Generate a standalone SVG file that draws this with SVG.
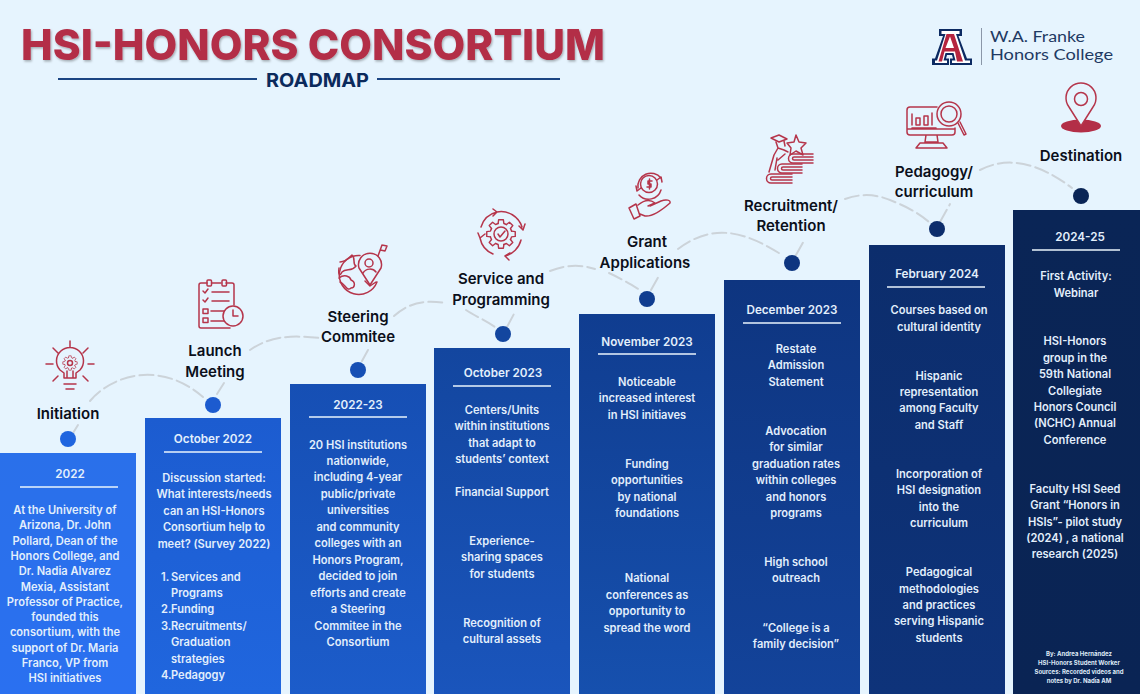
<svg xmlns="http://www.w3.org/2000/svg" width="1140" height="694" viewBox="0 0 1140 694">
<style>
text{font-family:Inter,"Liberation Sans",sans-serif}
.b{font-size:11.100px;font-weight:600;fill:#e3effc;text-anchor:middle}
.d{font-size:11.700px;font-weight:600;fill:#e3effc;text-anchor:middle}
.l{font-size:15px;font-weight:600;fill:#0b0f1a;text-anchor:middle}
.u{stroke:#eaf4fd;stroke-width:1.600;fill:none}
.i{fill:none;stroke:#b5354b;stroke-width:1.500;stroke-linecap:round;stroke-linejoin:round}
.c{fill:none;stroke:#ccd3d9;stroke-width:2;stroke-dasharray:14 5;stroke-linecap:round}
</style>
<defs>
<linearGradient id="g1" x1="0" y1="0" x2="0" y2="1"><stop offset="0" stop-color="#2a70ea"/><stop offset="1" stop-color="#2a70f0"/></linearGradient>
<linearGradient id="g2" x1="0" y1="0" x2="0" y2="1"><stop offset="0" stop-color="#1c5cd0"/><stop offset="1" stop-color="#2066de"/></linearGradient>
<linearGradient id="g3" x1="0" y1="0" x2="0" y2="1"><stop offset="0" stop-color="#164fb4"/><stop offset="1" stop-color="#1c5cca"/></linearGradient>
<linearGradient id="g4" x1="0" y1="0" x2="0" y2="1"><stop offset="0" stop-color="#13469f"/><stop offset="1" stop-color="#1a55bc"/></linearGradient>
<linearGradient id="g5" x1="0" y1="0" x2="0" y2="1"><stop offset="0" stop-color="#103d90"/><stop offset="1" stop-color="#1650ae"/></linearGradient>
<linearGradient id="g6" x1="0" y1="0" x2="0" y2="1"><stop offset="0" stop-color="#0e3580"/><stop offset="1" stop-color="#13439a"/></linearGradient>
<linearGradient id="g7" x1="0" y1="0" x2="0" y2="1"><stop offset="0" stop-color="#0c2d6c"/><stop offset="1" stop-color="#0e337a"/></linearGradient>
<linearGradient id="g8" x1="0" y1="0" x2="0" y2="1"><stop offset="0" stop-color="#0a2556"/><stop offset="1" stop-color="#0a2454"/></linearGradient>
<filter id="sh" x="-5%" y="-20%" width="110%" height="140%"><feDropShadow dx="1" dy="1.500" stdDeviation="1" flood-color="#000" flood-opacity=".3"/></filter>
<path id="t" d="M-3 -11.100L-2.500 -15H2.500L3 -11.100A11.500 11.500 0 0 1 5.750 -9.960"/>
<g id="gear">
<use href="#t"/><use href="#t" transform="rotate(45)"/><use href="#t" transform="rotate(90)"/><use href="#t" transform="rotate(135)"/><use href="#t" transform="rotate(180)"/><use href="#t" transform="rotate(225)"/><use href="#t" transform="rotate(270)"/><use href="#t" transform="rotate(315)"/>
</g>
</defs>
<rect width="1140" height="694" fill="#e6f4fe"/>

<g id="title">
<text x="313" y="60" text-anchor="middle" font-size="43" font-weight="800" fill="#b32e47" filter="url(#sh)" textLength="584" lengthAdjust="spacingAndGlyphs">HSI-HONORS CONSORTIUM</text>
<text x="317.500" y="87" text-anchor="middle" font-size="19" font-weight="700" fill="#0b2a5c" textLength="103" lengthAdjust="spacingAndGlyphs">ROADMAP</text>
<path d="M58 79H257M377 79H560" stroke="#1b4583" stroke-width="2" fill="none"/>
</g>

<g id="logo">
<path d="M932 65V58.500H935L943 36H939V29H962V36H958.500L967 58.500H972V65H950V58.500H953L952 55H947L946 58.500H949V65Z" fill="#0c2a62"/>
<path d="M935 63V60.500H937L945.500 34H941.500V31H959.500V34H956L965 60.500H970V63H952V60.500H955.500L953.500 53H945.500L943.500 60.500H947V63Z" fill="#fff"/>
<path d="M938.500 61.500L946.500 34H954L963 61.500H957L955 51.500H944.500L942 61.500ZM945.500 48H954L950 36.500Z" fill="#b5253f"/>
<path d="M981.500 28V65" stroke="#8b97a8" stroke-width="1"/>
<text x="990" y="41.500" style='font-family:Lato,sans-serif' font-size="14.800" fill="#1f3a63" textLength="95" lengthAdjust="spacingAndGlyphs">W.A. Franke</text>
<text x="990" y="60" style='font-family:Lato,sans-serif' font-size="14.800" fill="#1f3a63" textLength="123" lengthAdjust="spacingAndGlyphs">Honors College</text>
</g>

<g id="connectors">
<path class="c" d="M73 433L78 425"/>
<path class="c" d="M90 401C112 375 160 360 203 397"/>
<path class="c" d="M217 394L224 383"/>
<path class="c" d="M250 350C270 336 290 335 320 338"/>
<path class="c" d="M362 361L368 350"/>
<path class="c" d="M394 316C410 302 425 300 446 303"/>
<path class="c" d="M466 310C475 316 485 320 495 327"/>
<path class="c" d="M507 327L515 312"/>
<path class="c" d="M550 271C565 265 580 264 595 269"/>
<path class="c" d="M609 273C620 278 630 284 640 290"/>
<path class="c" d="M651 290L660 274"/>
<path class="c" d="M678 249C710 225 740 228 782 255"/>
<path class="c" d="M796 255L805 239"/>
<path class="c" d="M845 199C865 192 880 195 897 203C910 208 922 216 929 222"/>
<path class="c" d="M940 222L950 204"/>
<path class="c" d="M980 170C1005 157 1035 160 1072 188"/>
</g>

<g id="n1">
<rect x="-1" y="453" width="137" height="241" fill="url(#g1)"/>
<circle cx="68" cy="439" r="8" fill="#1f65df"/>
<text class="l" x="68" y="419">Initiation</text>
<g class="i"><path d="M64 378V373L60 370A13.500 13.500 0 1 1 80 370L76 373V378ZM64 384H76M66 389H74M70 341V347M53 348L58 353M88 348L83 353M46 364H53M88 364H94M53 381L58 376M88 381L83 376M67 371V378M73 371V378"/><use href="#gear" transform="translate(70,363) scale(.48)"/><circle cx="70" cy="363" r="2.500"/></g>
<text class="d" x="70" y="478">2022</text><path class="u" d="M20 487H118"/>
<text class="b"><tspan x="65" y="514">At the University of</tspan><tspan x="65" y="529">Arizona, Dr. John</tspan><tspan x="65" y="545">Pollard, Dean of the</tspan><tspan x="65" y="560">Honors College, and</tspan><tspan x="65" y="575">Dr. Nadia Alvarez</tspan><tspan x="65" y="591">Mexia, Assistant</tspan><tspan x="65" y="606">Professor of Practice,</tspan><tspan x="65" y="621">founded this</tspan><tspan x="65" y="636">consortium, with the</tspan><tspan x="65" y="652">support of Dr. Maria</tspan><tspan x="65" y="667">Franco, VP from</tspan><tspan x="65" y="682">HSI initiatives</tspan></text>
</g>

<g id="n2">
<rect x="145" y="418" width="136" height="276" fill="url(#g2)"/>
<circle cx="213" cy="405" r="8" fill="#1c5bcf"/>
<text class="l"><tspan x="215" y="356">Launch</tspan><tspan x="215" y="377">Meeting</tspan></text>
<g class="i"><path d="M207 283H201A2 2 0 0 0 199 285V326A2 2 0 0 0 201 328H230M234 305V285A2 2 0 0 0 232 283H226M212 283H221"/><rect x="207" y="280" width="4.500" height="6" rx="1"/><rect x="222" y="280" width="4.500" height="6" rx="1"/><path d="M203 291L205 293L208 289M203 300L205 302L208 298M212 292H229M212 301H229"/><rect x="203" y="309" width="5" height="4.500"/><rect x="203" y="318" width="5" height="4.500"/><path d="M211 311H224M211 321H224"/><circle cx="233" cy="316" r="10"/><path d="M233 310V316H238"/></g>
<text class="d" x="213" y="443">October 2022</text><path class="u" d="M164 452H262"/>
<text class="b"><tspan x="214" y="482">Discussion started:</tspan><tspan x="214" y="498">What interests/needs</tspan><tspan x="214" y="515">can an HSI-Honors</tspan><tspan x="214" y="531">Consortium help to</tspan><tspan x="214" y="548">meet? (Survey 2022)</tspan></text>
<text class="b" style="text-anchor:start"><tspan x="161" y="581">1.</tspan><tspan x="171" y="581">Services and</tspan><tspan x="171" y="597">Programs</tspan><tspan x="161" y="613">2.</tspan><tspan x="171" y="613">Funding</tspan><tspan x="161" y="630">3.</tspan><tspan x="171" y="630">Recruitments/</tspan><tspan x="171" y="646">Graduation</tspan><tspan x="171" y="663">strategies</tspan><tspan x="161" y="679">4.</tspan><tspan x="171" y="679">Pedagogy</tspan></text>
</g>

<g id="n3">
<rect x="290" y="384" width="136" height="310" fill="url(#g3)"/>
<circle cx="358" cy="370" r="8" fill="#164fb4"/>
<text class="l"><tspan x="358" y="322">Steering</tspan><tspan x="358" y="342">Commitee</tspan></text>
<g class="i"><path d="M360 255.500A19.500 19.500 0 1 0 377 282"/><path d="M340 262C345 262 349 258 352 255C356 258 352 264 356 266C352 272 346 268 342 272C340 276 338 276 339 268M339 278C344 274 350 276 351 280C356 282 355 288 351 288C347 292 345 284 340 282M365 281L370 286L376 282"/><path d="M359 268A11.500 11.500 0 1 1 381 268L370 285Z"/><circle cx="369" cy="263" r="4"/><path d="M363 273C366 268 373 268 376 272M378 256L382 245M382 245L387 246L385 251L380.500 250"/></g>
<text class="d" x="358" y="409">2022-23</text><path class="u" d="M309 417H407"/>
<text class="b"><tspan x="358" y="449">20 HSI institutions</tspan><tspan x="358" y="465">nationwide,</tspan><tspan x="358" y="481">including 4-year</tspan><tspan x="358" y="498">public/private</tspan><tspan x="358" y="514">universities</tspan><tspan x="358" y="531">and community</tspan><tspan x="358" y="547">colleges with an</tspan><tspan x="358" y="564">Honors Program,</tspan><tspan x="358" y="580">decided to join</tspan><tspan x="358" y="597">efforts and create</tspan><tspan x="358" y="613">a Steering</tspan><tspan x="358" y="630">Commitee in the</tspan><tspan x="358" y="646">Consortium</tspan></text>
</g>

<g id="n4">
<rect x="434" y="348" width="136" height="346" fill="url(#g4)"/>
<circle cx="503" cy="334" r="8" fill="#13469f"/>
<text class="l"><tspan x="501" y="284">Service and</tspan><tspan x="501" y="305">Programming</tspan></text>
<g class="i"><path d="M497 212A22 22 0 0 1 522 227M523 230L519 226M523 230L525 224M521 240A22 22 0 0 1 505 256M505 256L510 253M505 256L509 260M493 254A22 22 0 0 1 480 238M480 238L478 233M480 238L485 234M481 227A22 22 0 0 1 497 212M497 212L493 209M497 212L493 216"/><use href="#gear" transform="translate(501,234) scale(.95)"/><circle cx="501" cy="234" r="7"/><path d="M498 234L500 237L505 231"/></g>
<text class="d" x="503" y="377">October 2023</text><path class="u" d="M453 386H551"/>
<text class="b"><tspan x="502" y="414">Centers/Units</tspan><tspan x="502" y="430">within institutions</tspan><tspan x="502" y="447">that adapt to</tspan><tspan x="502" y="463">students’ context</tspan><tspan x="502" y="496">Financial Support</tspan><tspan x="502" y="545">Experience-</tspan><tspan x="502" y="561">sharing spaces</tspan><tspan x="502" y="578">for students</tspan><tspan x="502" y="627">Recognition of</tspan><tspan x="502" y="643">cultural assets</tspan></text>
</g>

<g id="n5">
<rect x="579" y="314" width="136" height="380" fill="url(#g5)"/>
<circle cx="647" cy="299" r="8" fill="#103d90"/>
<text class="l"><tspan x="647" y="247">Grant</tspan><tspan x="645" y="268">Applications</tspan></text>
<g class="i"><path d="M638 188A13 13 0 0 1 661 178M661 190A13 13 0 0 1 639 195"/><circle cx="649" cy="184" r="8.500"/><path d="M652 181H648V184H651V187H647M649.500 179V189M636 186L637 191L641 188M662 182L661 177L657 180M636 204L629 208L634 219L640 216L636 204M638 205C644 200 650 199 655 203L648 206M650 206L661 201C666 199 671 200 670 203C662 210 652 217 645 216L640 214"/></g>
<text class="d" x="647" y="346">November 2023</text><path class="u" d="M598 354H696"/>
<text class="b"><tspan x="647" y="386">Noticeable</tspan><tspan x="647" y="402">increased interest</tspan><tspan x="647" y="419">in HSI initiaves</tspan><tspan x="647" y="468">Funding</tspan><tspan x="647" y="484">opportunities</tspan><tspan x="647" y="501">by national</tspan><tspan x="647" y="517">foundations</tspan><tspan x="647" y="582">National</tspan><tspan x="647" y="599">conferences as</tspan><tspan x="647" y="615">opportunity to</tspan><tspan x="647" y="632">spread the word</tspan></text>
</g>

<g id="n6">
<rect x="724" y="280" width="136" height="414" fill="url(#g6)"/>
<circle cx="792" cy="263" r="8" fill="#0e3580"/>
<text class="l"><tspan x="791" y="211">Recruitment/</tspan><tspan x="791" y="231">Retention</tspan></text>
<g class="i"><path d="M792 174H771A4.500 4.500 0 0 0 771 183H792M792 177H772A1.500 1.500 0 0 0 772 180H792"/><path d="M802 164H782A4.500 4.500 0 0 0 782 173H802M802 167H783A1.500 1.500 0 0 0 783 170H802"/><path d="M813 154H793A4.500 4.500 0 0 0 793 163H813M813 157H794A1.500 1.500 0 0 0 794 160H813"/><path d="M769 172L774 155L778 148L784 150L788 152M777 158L775 170M785 154L778 160M778 148L776 142M784 141L785 146"/><path d="M771 138L779 135L787 139L779 142Z"/><path d="M796 135L799 142L806 143L801 148L803 155L796 151L790 155L791 148L787 143L794 142Z"/></g>
<text class="d" x="792" y="314">December 2023</text><path class="u" d="M743 323H841"/>
<text class="b"><tspan x="796" y="353">Restate</tspan><tspan x="796" y="369">Admission</tspan><tspan x="796" y="386">Statement</tspan><tspan x="796" y="435">Advocation</tspan><tspan x="796" y="451">for similar</tspan><tspan x="796" y="468">graduation rates</tspan><tspan x="796" y="484">within colleges</tspan><tspan x="796" y="501">and honors</tspan><tspan x="796" y="517">programs</tspan><tspan x="796" y="566">High school</tspan><tspan x="796" y="582">outreach</tspan><tspan x="796" y="632">“College is a</tspan><tspan x="796" y="648">family decision”</tspan></text>
</g>

<g id="n7">
<rect x="869" y="245" width="136" height="449" fill="url(#g7)"/>
<circle cx="937" cy="229" r="8" fill="#0c2d6c"/>
<text class="l"><tspan x="934" y="177">Pedagogy/</tspan><tspan x="934" y="197">curriculum</tspan></text>
<g class="i"><path d="M937 107H910A3 3 0 0 0 907 110V132A3 3 0 0 0 910 135H952A3 3 0 0 0 955 132V128M907 129H955M926 135L925 142H938L937 135M916 148L920 143H943L947 148ZM912 128H936M912 114V125M916 118V125H920V118ZM924 116V125H928V116ZM932 113V125"/><circle cx="949" cy="114" r="12"/><circle cx="949" cy="114" r="8"/><path d="M958 123L964 135L966 134L960 122"/></g>
<text class="d" x="937" y="278">February 2024</text><path class="u" d="M887 287H985"/>
<text class="b"><tspan x="939" y="314">Courses based on</tspan><tspan x="939" y="331">cultural identity</tspan><tspan x="939" y="380">Hispanic</tspan><tspan x="939" y="396">representation</tspan><tspan x="939" y="412">among Faculty</tspan><tspan x="939" y="429">and Staff</tspan><tspan x="939" y="478">Incorporation of</tspan><tspan x="939" y="494">HSI designation</tspan><tspan x="939" y="511">into the</tspan><tspan x="939" y="527">curriculum</tspan><tspan x="939" y="576">Pedagogical</tspan><tspan x="939" y="593">methodologies</tspan><tspan x="939" y="609">and practices</tspan><tspan x="939" y="625">serving Hispanic</tspan><tspan x="939" y="642">students</tspan></text>
</g>

<g id="n8">
<rect x="1013" y="210" width="127" height="484" fill="url(#g8)"/>
<circle cx="1081" cy="196" r="8" fill="#0a2556"/>
<text class="l" x="1081" y="161">Destination</text>
<ellipse cx="1081" cy="126" rx="20" ry="6.500" fill="#b32e47"/>
<path d="M1081 126L1069 107A15 15 0 1 1 1093 107Z" fill="#e6f4fe" stroke="#b5354b" stroke-width="1.500"/><circle cx="1081" cy="99" r="6.500" class="i"/>
<text class="d" x="1080" y="241">2024-25</text><path class="u" d="M1032 250H1120"/>
<text class="b"><tspan x="1076" y="280">First Activity:</tspan><tspan x="1076" y="297">Webinar</tspan><tspan x="1075" y="345">HSI-Honors</tspan><tspan x="1075" y="362">group in the</tspan><tspan x="1075" y="378">59th National</tspan><tspan x="1075" y="395">Collegiate</tspan><tspan x="1075" y="411">Honors Council</tspan><tspan x="1075" y="427">(NCHC) Annual</tspan><tspan x="1075" y="444">Conference</tspan><tspan x="1075" y="493">Faculty HSI Seed</tspan><tspan x="1075" y="509">Grant “Honors in</tspan><tspan x="1075" y="526">HSIs”- pilot study</tspan><tspan x="1075" y="542">(2024) , a national</tspan><tspan x="1075" y="558">research (2025)</tspan></text>
<text style="font-size:6px;font-weight:700;fill:#dfe9f6;text-anchor:middle"><tspan x="1079" y="656">By: Andrea Hernández</tspan><tspan x="1079" y="665">HSI-Honors Student Worker</tspan><tspan x="1079" y="674">Sources: Recorded videos and</tspan><tspan x="1079" y="683">notes by Dr. Nadia AM</tspan></text>
</g>
</svg>
